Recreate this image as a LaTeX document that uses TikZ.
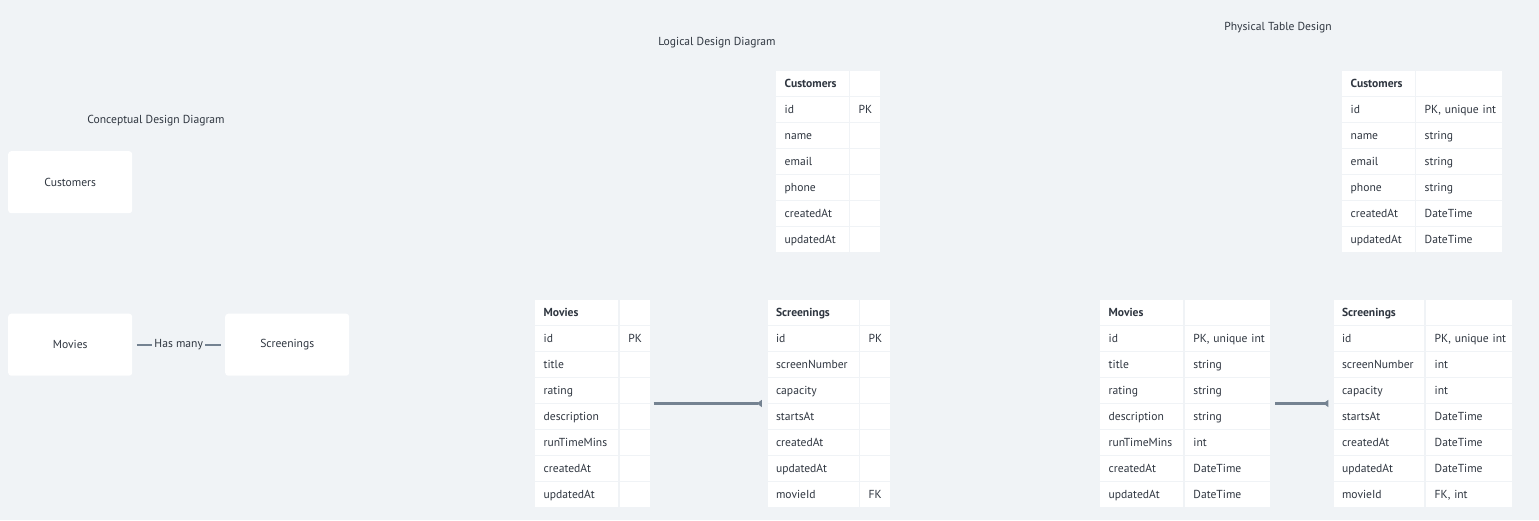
\documentclass[tikz,border=0pt]{standalone}
\usepackage{fontspec}
\setmainfont{PT Sans}
\usetikzlibrary{arrows.meta}

\definecolor{canvas}{HTML}{F0F3F6}
\definecolor{ink}{HTML}{2F3640}
\definecolor{link}{HTML}{748291}

\begin{document}
\begin{tikzpicture}[x=1pt,y=-1pt,font=\fontsize{11.6}{13}\selectfont,
  entity/.style={fill=white,rounded corners=3pt,text=ink,minimum width=124pt,minimum height=62pt,anchor=north west},
  cell/.style={fill=white,text=ink,anchor=north west,inner xsep=8.5pt,inner ysep=0pt,minimum height=24.5pt,text height=10pt,text depth=1.5pt,align=left},
  head/.style={cell,font=\fontsize{11.6}{13}\selectfont\bfseries},
  tablebox/.style={anchor=north west,inner sep=0pt},
  caption/.style={text=ink},
  rel/.style={draw=link,line width=2.3pt}]
  \fill[canvas] (0,0) rectangle (1539,520);

  % conceptual
  \node[caption] (conc) at (156,121) {Conceptual Design Diagram};
  \node[entity] (cust) at (8,151) {Customers};
  \node[entity] (mov) at (8,313.5) {Movies};
  \node[entity] (scr) at (225,313.5) {Screenings};
  \draw[rel,shorten <=4.5pt,shorten >=4pt] (mov) -- node[fill=canvas,text=ink,inner xsep=2pt,inner ysep=1pt] {Has many} (scr);

  % logical
  \node[caption] (logi) at (717,43) {Logical Design Diagram};
  \node[tablebox,minimum width=104pt,minimum height=180.5pt] (lcust) at (776,71) {};
  \node[head,text width=55.3pt] at (776,71) {Customers};
  \node[cell,text width=13pt] at (850,71) {};
  \foreach \f/\t [count=\i] in {id/PK,name/,email/,phone/,createdAt/,updatedAt/} {
    \node[cell,text width=55.3pt] at (776,71+26*\i) {\mbox{\f}};
    \node[cell,text width=13pt] at (850,71+26*\i) {\mbox{\t}};
  }
  \node[tablebox,minimum width=114.3pt,minimum height=206.5pt] (lmov) at (535,300) {};
  \node[head,text width=65.7pt] at (535,300) {Movies};
  \node[cell,text width=12.6pt] at (619.7,300) {};
  \foreach \f/\t [count=\i] in {id/PK,title/,rating/,description/,runTimeMins/,createdAt/,updatedAt/} {
    \node[cell,text width=65.7pt] at (535,300+26*\i) {\mbox{\f}};
    \node[cell,text width=12.6pt] at (619.7,300+26*\i) {\mbox{\t}};
  }
  \node[tablebox,minimum width=122.7pt,minimum height=206.5pt] (lscr) at (767.3,300) {};
  \node[head,text width=74pt] at (767.3,300) {Screenings};
  \node[cell,text width=13pt] at (860,300) {};
  \foreach \f/\t [count=\i] in {id/PK,screenNumber/,capacity/,startsAt/,createdAt/,updatedAt/,movieId/FK} {
    \node[cell,text width=74pt] at (767.3,300+26*\i) {\mbox{\f}};
    \node[cell,text width=13pt] at (860,300+26*\i) {\mbox{\t}};
  }
  \draw[rel,-{Triangle[reversed,length=5pt,width=7pt]},shorten <=4pt,shorten >=5.5pt] (lmov) -- (lscr);

  % physical
  \node[caption] (phys) at (1278,28) {Physical Table Design};
  \node[tablebox,minimum width=159.7pt,minimum height=180.5pt] (pcust) at (1342,71) {};
  \node[head,text width=55.3pt] at (1342,71) {Customers};
  \node[cell,text width=68.7pt] at (1416,71) {};
  \foreach \f/\t [count=\i] in {id/{PK, unique int},name/string,email/string,phone/string,createdAt/DateTime,updatedAt/DateTime} {
    \node[cell,text width=55.3pt] at (1342,71+26*\i) {\mbox{\f}};
    \node[cell,text width=68.7pt] at (1416,71+26*\i) {\mbox{\t}};
  }
  \node[tablebox,minimum width=170pt,minimum height=206.5pt] (pmov) at (1100,300) {};
  \node[head,text width=65.7pt] at (1100,300) {Movies};
  \node[cell,text width=68.3pt] at (1184.7,300) {};
  \foreach \f/\t [count=\i] in {id/{PK, unique int},title/string,rating/string,description/string,runTimeMins/int,createdAt/DateTime,updatedAt/DateTime} {
    \node[cell,text width=65.7pt] at (1100,300+26*\i) {\mbox{\f}};
    \node[cell,text width=68.3pt] at (1184.7,300+26*\i) {\mbox{\t}};
  }
  \node[tablebox,minimum width=178.4pt,minimum height=206.5pt] (pscr) at (1333.3,300) {};
  \node[head,text width=73.7pt] at (1333.3,300) {Screenings};
  \node[cell,text width=68.7pt] at (1426,300) {};
  \foreach \f/\t [count=\i] in {id/{PK, unique int},screenNumber/int,capacity/int,startsAt/DateTime,createdAt/DateTime,updatedAt/DateTime,movieId/{FK, int}} {
    \node[cell,text width=73.7pt] at (1333.3,300+26*\i) {\mbox{\f}};
    \node[cell,text width=68.7pt] at (1426,300+26*\i) {\mbox{\t}};
  }
  \draw[rel,-{Triangle[reversed,length=5pt,width=7pt]},shorten <=5pt,shorten >=5pt] (pmov) -- (pscr);
\end{tikzpicture}
\end{document}
